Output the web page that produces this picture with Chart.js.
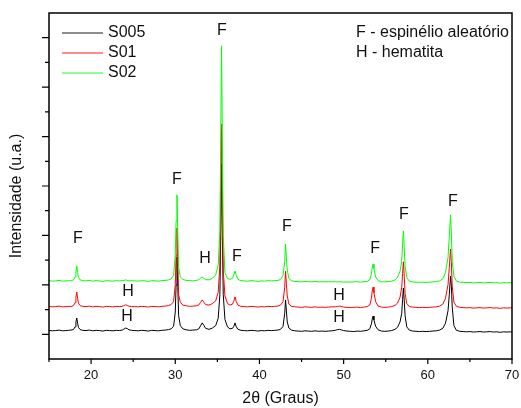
<!DOCTYPE html>
<html>
<head>
<meta charset="utf-8">
<script src="https://cdn.jsdelivr.net/npm/chart.js@4.4.1/dist/chart.umd.min.js"></script>
<style>
  html, body { margin: 0; padding: 0; background: #fff; }
  #wrap { width: 521px; height: 408px; }
</style>
</head>
<body>
<div id="wrap"><canvas id="xrd" width="521" height="408"></canvas></div>
<script>
/* ====== DADOS (2θ em graus, intensidade deslocada) ====== */
const twoTheta = [
  15, 15.4, 15.8, 16.2, 16.6, 17.0, 17.3, 17.6,
  17.9, 18.1, 18.2, 18.3, 18.4, 18.5, 18.7, 19.0,
  19.4, 19.8, 20.2, 20.6, 21.0, 21.4, 21.8, 22.2, 22.6, 23.0, 23.4,
  23.7, 23.9, 24.1, 24.3, 24.5, 24.8,
  25.2, 25.6, 26.0, 26.4, 26.8, 27.2, 27.6, 28.0, 28.4, 28.8, 29.2,
  29.5, 29.8, 30.0, 30.1, 30.2, 30.3, 30.4, 30.6, 30.9,
  31.3, 31.7, 32.1, 32.5,
  32.8, 33.0, 33.2, 33.4, 33.6,
  34.0, 34.4,
  34.8, 35.1, 35.3, 35.4, 35.5, 35.6, 35.7, 35.9, 36.2,
  36.5, 36.8,
  36.95, 37.1, 37.25, 37.45,
  37.8, 38.2, 38.6, 39.0, 39.4, 39.8, 40.2, 40.6, 41.0, 41.4, 41.8, 42.2,
  42.5, 42.8, 43.0, 43.1, 43.2, 43.3, 43.5, 43.8,
  44.2, 44.6, 45.0, 45.4, 45.8, 46.2, 46.6, 47.0, 47.4, 47.8, 48.2, 48.6,
  49.0, 49.3, 49.5, 49.7, 50.0,
  50.4, 50.8, 51.2, 51.6, 52.0, 52.4, 52.8,
  53.1, 53.3, 53.4, 53.5, 53.6, 53.8, 54.1,
  54.5, 54.9, 55.3, 55.7,
  56.1, 56.4, 56.7, 56.9, 57.0, 57.1, 57.2, 57.3, 57.5, 57.8,
  58.2, 58.6, 59.0, 59.4, 59.8, 60.2, 60.6, 61.0,
  61.4, 61.8, 62.1, 62.4, 62.55, 62.7, 62.8, 62.9, 63.1, 63.4,
  63.8, 64.2, 64.6, 65.0, 65.4, 65.8, 66.2, 66.6, 67.0, 67.4, 67.8, 68.2, 68.6, 69.0, 69.4, 69.8, 70.0
];

const yS005 = [
  1.16, 1.14, 1.15, 1.17, 1.14, 1.15, 1.16, 1.17,
  1.19, 1.30, 1.50, 1.66, 1.45, 1.28, 1.19, 1.16,
  1.15, 1.17, 1.14, 1.16, 1.15, 1.13, 1.16, 1.15, 1.14, 1.16, 1.15,
  1.17, 1.21, 1.25, 1.23, 1.18, 1.16,
  1.15, 1.14, 1.16, 1.15, 1.13, 1.16, 1.15, 1.14, 1.16, 1.17, 1.19,
  1.22, 1.32, 1.90, 3.00, 4.13, 2.90, 1.75, 1.35, 1.22,
  1.18, 1.16, 1.17, 1.18,
  1.22, 1.34, 1.46, 1.36, 1.24,
  1.20, 1.25,
  1.35, 1.65, 2.60, 5.00, 7.90, 4.80, 2.60, 1.60, 1.30,
  1.22, 1.24,
  1.32, 1.46, 1.30, 1.20,
  1.16, 1.15, 1.14, 1.16, 1.15, 1.13, 1.15, 1.14, 1.16, 1.15, 1.16, 1.17,
  1.20, 1.32, 1.85, 2.39, 1.95, 1.50, 1.25, 1.17,
  1.14, 1.13, 1.12, 1.14, 1.13, 1.12, 1.14, 1.12, 1.13, 1.12, 1.13, 1.14,
  1.16, 1.19, 1.20, 1.18, 1.15,
  1.13, 1.12, 1.11, 1.13, 1.12, 1.14, 1.16,
  1.22, 1.42, 1.62, 1.74, 1.58, 1.32, 1.18,
  1.13, 1.12, 1.13, 1.15,
  1.20, 1.28, 1.50, 1.85, 2.40, 2.87, 2.35, 1.75, 1.30, 1.17,
  1.13, 1.12, 1.11, 1.12, 1.11, 1.12, 1.13, 1.14,
  1.17, 1.25, 1.45, 1.95, 2.60, 3.36, 2.95, 2.10, 1.35, 1.16,
  1.12, 1.11, 1.10, 1.11, 1.09, 1.10, 1.11, 1.09, 1.10, 1.11, 1.09, 1.10, 1.08, 1.10, 1.09, 1.10, 1.09
];

const yS01 = [
  2.13, 2.11, 2.12, 2.14, 2.11, 2.12, 2.13, 2.12,
  2.16, 2.28, 2.50, 2.71, 2.45, 2.26, 2.16, 2.13,
  2.12, 2.14, 2.11, 2.13, 2.12, 2.10, 2.13, 2.12, 2.11, 2.13, 2.12,
  2.13, 2.16, 2.19, 2.17, 2.14, 2.12,
  2.12, 2.11, 2.13, 2.12, 2.10, 2.13, 2.12, 2.11, 2.13, 2.14, 2.16,
  2.20, 2.32, 3.00, 4.20, 5.30, 3.90, 2.60, 2.30, 2.18,
  2.15, 2.13, 2.14, 2.15,
  2.19, 2.29, 2.39, 2.30, 2.20,
  2.18, 2.24,
  2.35, 2.70, 3.80, 6.50, 9.50, 6.20, 3.60, 2.55, 2.25,
  2.18, 2.22,
  2.34, 2.51, 2.32, 2.18,
  2.13, 2.12, 2.11, 2.13, 2.12, 2.10, 2.12, 2.11, 2.13, 2.12, 2.13, 2.14,
  2.18, 2.32, 2.90, 3.56, 3.05, 2.55, 2.22, 2.13,
  2.11, 2.10, 2.09, 2.11, 2.10, 2.09, 2.11, 2.09, 2.10, 2.09, 2.10, 2.11,
  2.11, 2.13, 2.14, 2.13, 2.10,
  2.09, 2.08, 2.09, 2.10, 2.08, 2.10, 2.12,
  2.18, 2.45, 2.75, 2.91, 2.68, 2.32, 2.14,
  2.10, 2.09, 2.10, 2.12,
  2.17, 2.26, 2.50, 2.90, 3.45, 3.93, 3.35, 2.65, 2.25, 2.12,
  2.10, 2.09, 2.08, 2.09, 2.08, 2.09, 2.10, 2.11,
  2.14, 2.23, 2.45, 3.00, 3.70, 4.45, 3.90, 2.95, 2.30, 2.13,
  2.09, 2.08, 2.07, 2.08, 2.06, 2.07, 2.08, 2.06, 2.07, 2.08, 2.06, 2.07, 2.05, 2.07, 2.06, 2.07, 2.07
];

const yS02 = [
  3.17, 3.15, 3.16, 3.18, 3.15, 3.16, 3.17, 3.16,
  3.20, 3.32, 3.55, 3.76, 3.50, 3.30, 3.20, 3.17,
  3.16, 3.18, 3.15, 3.17, 3.16, 3.14, 3.17, 3.16, 3.15, 3.17, 3.16,
  3.17, 3.18, 3.20, 3.18, 3.16, 3.17,
  3.16, 3.15, 3.17, 3.16, 3.14, 3.17, 3.16, 3.15, 3.17, 3.18, 3.20,
  3.24, 3.38, 4.20, 5.60, 6.64, 5.10, 3.70, 3.32, 3.22,
  3.18, 3.17, 3.16, 3.18,
  3.21, 3.27, 3.32, 3.26, 3.21,
  3.20, 3.26,
  3.40, 3.80, 5.20, 9.00, 12.67, 8.60, 5.00, 3.50, 3.26,
  3.22, 3.27,
  3.40, 3.56, 3.38, 3.22,
  3.17, 3.16, 3.15, 3.17, 3.16, 3.14, 3.16, 3.15, 3.17, 3.16, 3.17, 3.18,
  3.22, 3.38, 3.95, 4.65, 4.10, 3.60, 3.26, 3.17,
  3.14, 3.13, 3.12, 3.14, 3.13, 3.12, 3.14, 3.12, 3.13, 3.12, 3.13, 3.12,
  3.13, 3.12, 3.13, 3.12, 3.11,
  3.12, 3.11, 3.12, 3.13, 3.11, 3.13, 3.14,
  3.20, 3.45, 3.70, 3.84, 3.65, 3.32, 3.17,
  3.13, 3.12, 3.13, 3.15,
  3.20, 3.30, 3.55, 3.95, 4.60, 5.18, 4.50, 3.75, 3.30, 3.15,
  3.12, 3.11, 3.10, 3.11, 3.10, 3.11, 3.12, 3.13,
  3.16, 3.25, 3.50, 4.10, 4.95, 5.83, 5.10, 3.95, 3.35, 3.15,
  3.11, 3.10, 3.09, 3.10, 3.08, 3.09, 3.10, 3.08, 3.09, 3.10, 3.08, 3.09, 3.07, 3.09, 3.08, 3.09, 3.08
];

const seriesNames = ["S005", "S01", "S02"];
const seriesColors = ["#000000", "#ff0000", "#00ff00"];

const xMajorTicks = [20, 30, 40, 50, 60, 70];
const xMinorTicks = [15, 25, 35, 45, 55, 65];
const yMajorTicks = [1, 3, 5, 7, 9, 11, 13];
const yMinorTicks = [2, 4, 6, 8, 10, 12];

// rótulos de fase sobre os picos
const peakText = ["F", "F", "F", "H", "F", "H", "H", "F", "H", "H", "F", "F", "F"];
const peakX    = [18.44, 30.2, 35.55, 33.53, 37.33, 24.38, 24.27, 43.27, 49.45, 49.45, 53.73, 57.17, 62.99];
const peakY    = [4.86, 7.24, 13.27, 4.05, 4.13, 2.71, 1.70, 5.34, 2.55, 1.66, 4.45, 5.83, 6.35];

const phaseNotes = ["F - espinélio aleatório", "H - hematita"];

/* ====== GRÁFICO ====== */
const FONT = "'Liberation Sans', Arial, Helvetica, sans-serif";

function toPoints(ys) {
  return twoTheta.map((x, i) => ({ x: x, y: ys[i] }));
}

const decorPlugin = {
  id: "decor",
  afterDraw(chart) {
    const ctx = chart.ctx;
    const xs = chart.scales.x;
    const ys = chart.scales.y;
    const a = chart.chartArea;

    ctx.save();
    ctx.strokeStyle = "#000";
    ctx.lineWidth = 1.5;
    ctx.strokeRect(a.left, a.top, a.right - a.left, a.bottom - a.top);

    ctx.lineWidth = 1.2;
    ctx.beginPath();
    xMajorTicks.forEach(v => { const p = xs.getPixelForValue(v); ctx.moveTo(p, a.bottom); ctx.lineTo(p, a.bottom + 5); });
    xMinorTicks.forEach(v => { const p = xs.getPixelForValue(v); ctx.moveTo(p, a.bottom); ctx.lineTo(p, a.bottom + 3); });
    yMajorTicks.forEach(v => { const p = ys.getPixelForValue(v); ctx.moveTo(a.left, p); ctx.lineTo(a.left - 7, p); });
    yMinorTicks.forEach(v => { const p = ys.getPixelForValue(v); ctx.moveTo(a.left, p); ctx.lineTo(a.left - 4, p); });
    ctx.stroke();

    // F / H
    ctx.fillStyle = "#111";
    ctx.font = "16px " + FONT;
    ctx.textAlign = "center";
    ctx.textBaseline = "middle";
    peakText.forEach((t, i) => {
      ctx.fillText(t, xs.getPixelForValue(peakX[i]), ys.getPixelForValue(peakY[i]));
    });

    // legenda
    ctx.textAlign = "left";
    seriesNames.forEach((name, i) => {
      const yy = 33 + i * 20;
      ctx.strokeStyle = seriesColors[i];
      ctx.globalAlpha = 0.6;
      ctx.lineWidth = 1.5;
      ctx.beginPath();
      ctx.moveTo(62, yy);
      ctx.lineTo(103, yy);
      ctx.stroke();
      ctx.globalAlpha = 1;
      ctx.fillText(name, 108, yy);
    });

    ctx.font = "16px " + FONT;
    phaseNotes.forEach((t, i) => ctx.fillText(t, 356, 33 + i * 20));

    // título do eixo y
    ctx.font = "16px " + FONT;
    ctx.textAlign = "center";
    ctx.translate(17, 196);
    ctx.rotate(-Math.PI / 2);
    ctx.fillText("Intensidade (u.a.)", 0, 0);
    ctx.restore();
  }
};

new Chart(document.getElementById("xrd"), {
  type: "line",
  data: {
    datasets: seriesNames.map((name, i) => ({
      label: name,
      data: toPoints([yS005, yS01, yS02][i]),
      borderColor: seriesColors[i],
      borderWidth: 1,
      pointRadius: 0,
      tension: 0,
      fill: false,
      order: 2 - i   // S02 por cima
    }))
  },
  options: {
    responsive: false,
    animation: false,
    layout: { padding: { top: 13, right: 9, left: 0, bottom: 0 } },
    plugins: { legend: { display: false }, tooltip: { enabled: false } },
    scales: {
      x: {
        type: "linear",
        min: 15, max: 70,
        grid: { display: false, drawTicks: false },
        border: { display: false },
        afterBuildTicks: s => { s.ticks = xMajorTicks.map(v => ({ value: v })); },
        afterFit: s => { s.height = 49; s.paddingLeft = 0; s.paddingRight = 0; },
        ticks: { color: "#111", padding: 9, font: { family: FONT, size: 13 } },
        title: {
          display: true,
          text: "2θ (Graus)",
          color: "#111",
          padding: { top: 0, bottom: 0 },
          font: { family: FONT, size: 16 }
        }
      },
      y: {
        type: "linear",
        min: 0, max: 14,
        grid: { display: false, drawTicks: false },
        border: { display: false },
        ticks: { display: false },
        afterFit: s => { s.width = 49; s.paddingTop = 0; s.paddingBottom = 0; }
      }
    }
  },
  plugins: [decorPlugin]
});
</script>
</body>
</html>
